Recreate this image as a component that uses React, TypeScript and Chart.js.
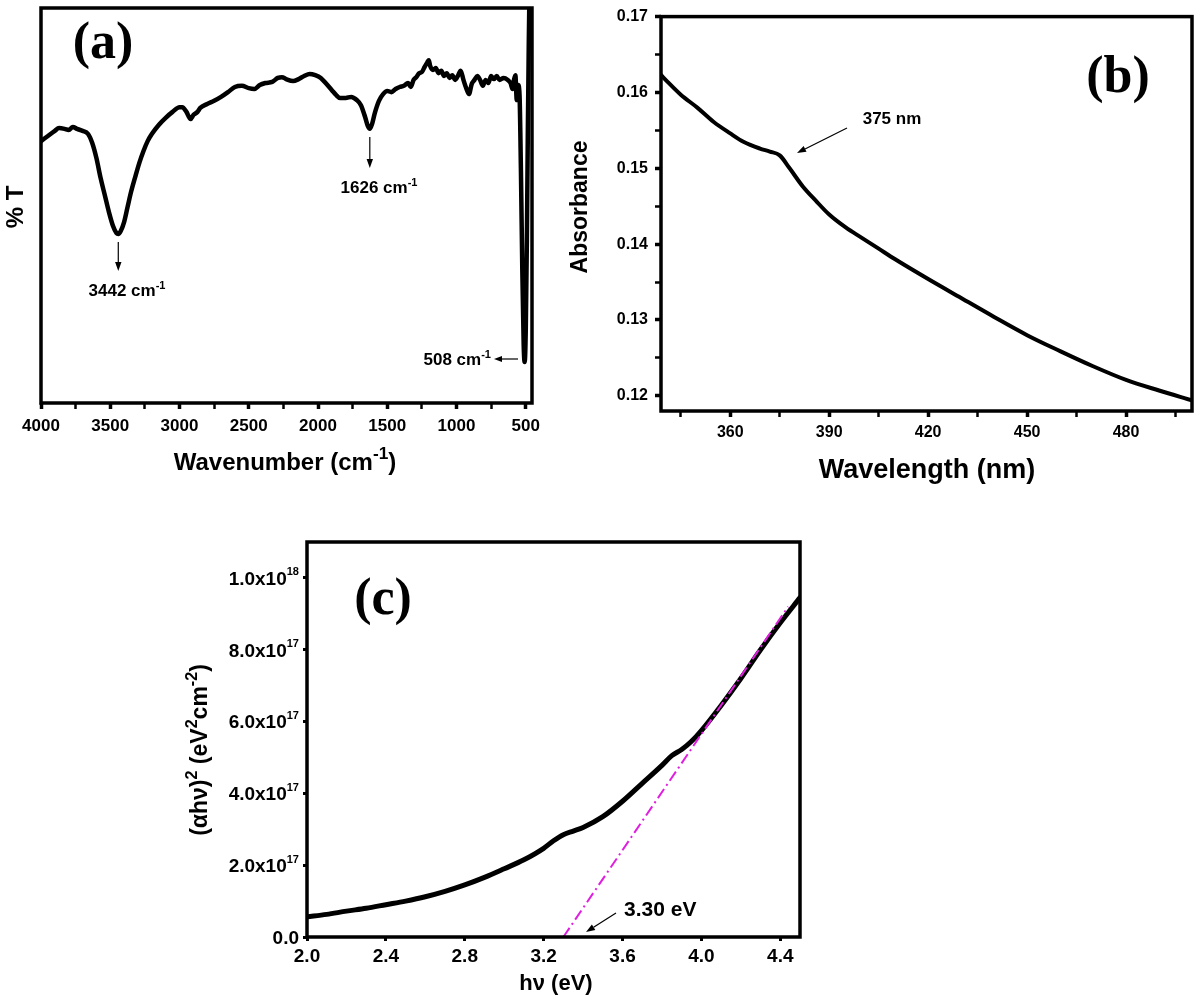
import React, { useEffect, useRef } from "react";
import { Chart, registerables } from "chart.js";

Chart.register(...registerables);

// ---------- Panel (a): FTIR ----------
const wavenumberA = [4000,3950,3900,3870,3830,3800,3770,3740,3700,3660,3630,3600,3570,3540,3510,3480,3455,3442,3425,3400,3375,3350,3320,3290,3260,3230,3200,3150,3100,3050,3000,2980,2950,2920,2900,2870,2850,2800,2750,2700,2650,2600,2550,2500,2460,2420,2380,2330,2290,2260,2230,2180,2140,2100,2060,2020,1980,1940,1900,1870,1840,1800,1760,1720,1690,1660,1640,1626,1610,1590,1560,1530,1500,1470,1440,1410,1380,1350,1330,1310,1290,1270,1250,1230,1210,1200,1190,1170,1150,1130,1110,1090,1070,1050,1030,1010,990,970,950,930,910,890,870,850,830,810,790,770,750,730,710,690,660,630,610,595,585,575,565,555,545,535,525,515,508,500,492,485,478,470];
const transmittanceA = [66.3,67.6,68.9,69.6,69.4,69.1,69.9,69.4,68.9,68.1,65.8,62.0,57.0,52.7,48.4,44.8,43.0,42.8,43.5,45.8,49.6,53.4,57.2,60.8,63.8,66.3,68.1,70.4,72.2,73.7,74.9,74.9,73.7,71.9,72.9,73.7,74.7,75.7,76.5,77.5,78.7,80.0,80.3,79.7,79.5,80.5,81.0,81.3,82.3,82.5,82.0,81.5,82.0,82.8,83.3,83.0,82.3,80.8,79.2,78.0,77.2,77.2,77.5,76.7,75.4,72.4,70.1,69.4,70.6,73.4,76.5,78.2,79.0,78.7,79.5,80.0,80.3,81.0,80.0,81.8,82.5,83.5,83.8,85.1,86.3,86.8,85.3,84.3,84.8,83.5,84.1,82.8,83.5,82.3,83.0,81.8,82.8,84.1,81.8,79.7,78.2,80.8,81.8,82.8,81.8,80.3,81.8,81.0,82.8,82.0,82.8,81.8,82.3,81.8,81.0,79.5,81.8,83.0,76.7,80.5,78.0,59.0,33.7,14.7,10.4,18.5,41.3,69.1,91.9,112];
const ticksA = [4000,3750,3500,3250,3000,2750,2500,2250,2000,1750,1500,1250,1000,750,500];

// ---------- Panel (b): UV-Vis ----------
const wavelengthB = [339,341,345,350,355,360,364,369,372,375,378,382,386,390,395,400,405,410,420,430,440,450,460,470,480,490,500];
const absorbanceB = [0.1623,0.1614,0.1597,0.1580,0.1561,0.1546,0.1535,0.1526,0.1522,0.1517,0.1500,0.1476,0.1457,0.1439,0.1422,0.1408,0.1394,0.1380,0.1354,0.1329,0.1304,0.1280,0.1259,0.1239,0.1221,0.1207,0.1194];
const ticksBx = [345,360,375,390,405,420,435,450,465,480,495];
const ticksBy = [0.12,0.125,0.13,0.135,0.14,0.145,0.15,0.155,0.16,0.165,0.17];

// ---------- Panel (c): Tauc plot ----------
const energyC = [2.0,2.1,2.2,2.3,2.4,2.5,2.6,2.7,2.8,2.9,3.0,3.1,3.2,3.25,3.3,3.35,3.4,3.5,3.6,3.7,3.8,3.85,3.9,3.95,4.0,4.1,4.2,4.3,4.4,4.5];
const taucC = [0.56e17,0.63e17,0.72e17,0.80e17,0.90e17,1.00e17,1.12e17,1.27e17,1.45e17,1.66e17,1.90e17,2.15e17,2.47e17,2.68e17,2.85e17,2.95e17,3.05e17,3.35e17,3.78e17,4.28e17,4.78e17,5.05e17,5.22e17,5.45e17,5.75e17,6.45e17,7.2e17,8.0e17,8.75e17,9.45e17];
const tangentX = [3.30, 4.44];
const tangentY = [0, 9.2e17];
const ticksCx = [2.0,2.4,2.8,3.2,3.6,4.0,4.4];
const ticksCy = [0,2e17,4e17,6e17,8e17,1e18];

const SANS = "'Liberation Sans', Arial, sans-serif";
const SERIF = "'Liberation Serif', 'Times New Roman', serif";

Chart.defaults.font.family = SANS;
Chart.defaults.color = "#000";

type Part = { t: string; sup?: boolean };

function drawRich(
  ctx: CanvasRenderingContext2D,
  parts: Part[],
  x: number,
  y: number,
  size: number,
  align: "left" | "center" | "right" = "center",
  rotate = false,
  family = SANS,
  supScale = 0.65,
  supRise = 0.42
) {
  ctx.save();
  ctx.translate(x, y);
  if (rotate) ctx.rotate(-Math.PI / 2);
  ctx.fillStyle = "#000";
  ctx.textBaseline = "alphabetic";
  ctx.textAlign = "left";
  const widths = parts.map((p) => {
    ctx.font = `bold ${p.sup ? size * supScale : size}px ${family}`;
    return ctx.measureText(p.t).width;
  });
  const total = widths.reduce((a, b) => a + b, 0);
  let cx = align === "center" ? -total / 2 : align === "right" ? -total : 0;
  parts.forEach((p, i) => {
    ctx.font = `bold ${p.sup ? size * supScale : size}px ${family}`;
    ctx.fillText(p.t, cx, p.sup ? -size * supRise : 0);
    cx += widths[i];
  });
  ctx.restore();
}

function drawArrow(ctx: CanvasRenderingContext2D, x1: number, y1: number, x2: number, y2: number, head = 9, half = 3.2) {
  const ang = Math.atan2(y2 - y1, x2 - x1);
  const bx = x2 - head * Math.cos(ang);
  const by = y2 - head * Math.sin(ang);
  ctx.save();
  ctx.strokeStyle = "#000";
  ctx.fillStyle = "#000";
  ctx.lineWidth = 1.2;
  ctx.beginPath();
  ctx.moveTo(x1, y1);
  ctx.lineTo(bx, by);
  ctx.stroke();
  ctx.beginPath();
  ctx.moveTo(x2, y2);
  ctx.lineTo(bx + half * Math.sin(ang), by - half * Math.cos(ang));
  ctx.lineTo(bx - half * Math.sin(ang), by + half * Math.cos(ang));
  ctx.closePath();
  ctx.fill();
  ctx.restore();
}

function drawFrame(chart: Chart, w: number) {
  const { ctx, chartArea: ca } = chart;
  ctx.save();
  ctx.strokeStyle = "#000";
  ctx.lineWidth = w;
  ctx.strokeRect(ca.left, ca.top, ca.right - ca.left, ca.bottom - ca.top);
  ctx.restore();
}

function tickGrid(len: number, isMajor: (v: number) => boolean, wMajor: number, wMinor: number) {
  return {
    display: true,
    drawOnChartArea: false,
    drawTicks: true,
    tickLength: len,
    tickColor: "#000",
    tickWidth: (c: any) => (c.tick && isMajor(c.tick.value) ? wMajor : wMinor),
  };
}

export default function App() {
  const refA = useRef<HTMLCanvasElement>(null);
  const refB = useRef<HTMLCanvasElement>(null);
  const refC = useRef<HTMLCanvasElement>(null);

  useEffect(() => {
    const decorA = {
      id: "decorA",
      afterDraw(chart: Chart) {
        const ctx = chart.ctx;
        drawFrame(chart, 3.5);
        drawRich(ctx, [{ t: "% T" }], 14 + 0.36 * 24, 207, 24, "center", true);
        drawRich(ctx, [{ t: "Wavenumber (cm" }, { t: "-1", sup: true }, { t: ")" }], 285, 470, 24, "center", false, SANS, 0.72, 0.45);
        drawRich(ctx, [{ t: "(a)" }], 103, 58, 52, "center", false, SERIF);
        const xs = chart.scales.x;
        const p3442 = xs.getPixelForValue(3442);
        const p1626 = xs.getPixelForValue(1626);
        drawRich(ctx, [{ t: "3442 cm" }, { t: "-1", sup: true }], 127, 296, 17);
        drawArrow(ctx, p3442, 242, p3442, 271);
        drawRich(ctx, [{ t: "1626 cm" }, { t: "-1", sup: true }], 379, 193, 17);
        drawArrow(ctx, p1626, 137, p1626, 168);
        drawRich(ctx, [{ t: "508 cm" }, { t: "-1", sup: true }], 491, 365, 17, "right");
        drawArrow(ctx, 518, 359, 494, 359, 8, 3);
      },
    };

    const decorB = {
      id: "decorB",
      afterDraw(chart: Chart) {
        const ctx = chart.ctx;
        drawFrame(chart, 3.5);
        drawRich(ctx, [{ t: "Absorbance" }], 19 + 0.36 * 23, 207, 23, "center", true);
        drawRich(ctx, [{ t: "Wavelength (nm)" }], 367, 478, 27);
        drawRich(ctx, [{ t: "(b)" }], 558, 92, 52, "center", false, SERIF);
        drawRich(ctx, [{ t: "375 nm" }], 332, 124, 17);
        drawArrow(ctx, 287, 128, 237, 153);
      },
    };

    const decorC = {
      id: "decorC",
      afterDraw(chart: Chart) {
        const ctx = chart.ctx;
        const ca = chart.chartArea;
        drawFrame(chart, 3.5);
        // y tick labels with true superscripts, placed via the y scale
        const ys = chart.scales.y;
        ticksCy.forEach((v) => {
          const py = ys.getPixelForValue(v);
          let parts: Part[];
          if (v === 0) {
            parts = [{ t: "0.0" }];
          } else {
            const e = Math.floor(Math.log10(v) + 1e-9);
            const m = v / Math.pow(10, e);
            parts = [{ t: m.toFixed(1) + "x10" }, { t: String(e), sup: true }];
          }
          drawRich(ctx, parts, ca.left - 8, py + 0.36 * 19, 19, "right", false, SANS, 0.58, 0.5);
        });
        drawRich(
          ctx,
          [{ t: "(αhν)" }, { t: "2", sup: true }, { t: " (eV" }, { t: "2", sup: true }, { t: "cm" }, { t: "-2", sup: true }, { t: ")" }],
          30 + 0.3 * 23,
          250,
          23,
          "center",
          true,
          SANS,
          0.7,
          0.45
        );
        drawRich(ctx, [{ t: "hν (eV)" }], 386, 490, 22);
        drawRich(ctx, [{ t: "(c)" }], 213, 114, 52, "center", false, SERIF);
        drawRich(ctx, [{ t: "3.30 eV" }], 454, 416, 21, "left");
        drawArrow(ctx, 446, 413, 416, 432);
      },
    };

    const chartA = new Chart(refA.current!, {
      type: "line",
      data: {
        datasets: [
          {
            data: wavenumberA.map((x, i) => ({ x, y: transmittanceA[i] })),
            borderColor: "#000",
            borderWidth: 4.5,
            pointRadius: 0,
            fill: false,
            cubicInterpolationMode: "monotone",
            borderJoinStyle: "round",
            borderCapStyle: "round",
          },
        ],
      },
      options: {
        animation: false,
        responsive: false,
        events: [],
        layout: { padding: { left: 0, top: 8, right: 28, bottom: 0 } },
        plugins: { legend: { display: false }, tooltip: { enabled: false } },
        scales: {
          x: {
            type: "linear",
            reverse: true,
            min: 455,
            max: 4000,
            afterBuildTicks: (s: any) => {
              s.ticks = ticksA.map((v) => ({ value: v }));
            },
            afterFit: (s: any) => {
              s.height = 87;
            },
            grid: tickGrid(6, (v) => v % 500 === 0, 3.5, 2.5) as any,
            border: { display: false },
            ticks: {
              autoSkip: false,
              maxRotation: 0,
              padding: 7,
              color: "#000",
              font: { size: 17, weight: "bold" },
              callback: (v: any) => (Number(v) % 500 === 0 ? String(v) : ""),
            },
          },
          y: {
            type: "linear",
            min: 0,
            max: 100,
            afterFit: (s: any) => {
              s.width = 41;
            },
            grid: { display: false },
            border: { display: false },
            ticks: { display: false },
          },
        },
      },
      plugins: [decorA],
    });

    const chartB = new Chart(refB.current!, {
      type: "line",
      data: {
        datasets: [
          {
            data: wavelengthB.map((x, i) => ({ x, y: absorbanceB[i] })),
            borderColor: "#000",
            borderWidth: 4,
            pointRadius: 0,
            fill: false,
            cubicInterpolationMode: "monotone",
            borderJoinStyle: "round",
            borderCapStyle: "round",
          },
        ],
      },
      options: {
        animation: false,
        responsive: false,
        events: [],
        layout: { padding: { left: 0, top: 14, right: 8, bottom: 0 } },
        plugins: { legend: { display: false }, tooltip: { enabled: false } },
        scales: {
          x: {
            type: "linear",
            min: 339,
            max: 500,
            afterBuildTicks: (s: any) => {
              s.ticks = ticksBx.map((v) => ({ value: v }));
            },
            afterFit: (s: any) => {
              s.height = 89;
            },
            grid: tickGrid(6, (v) => v % 30 === 0, 3.5, 2.5) as any,
            border: { display: false },
            ticks: {
              autoSkip: false,
              maxRotation: 0,
              padding: 6,
              color: "#000",
              font: { size: 16, weight: "bold" },
              callback: (v: any) => (Number(v) % 30 === 0 ? String(v) : ""),
            },
          },
          y: {
            type: "linear",
            min: 0.118,
            max: 0.17,
            afterBuildTicks: (s: any) => {
              s.ticks = ticksBy.map((v) => ({ value: v }));
            },
            afterFit: (s: any) => {
              s.width = 101;
            },
            grid: tickGrid(6, (v) => Math.round(v * 1000) % 10 === 0, 3.5, 2.5) as any,
            border: { display: false },
            ticks: {
              autoSkip: false,
              padding: 7,
              color: "#000",
              font: { size: 16, weight: "bold" },
              callback: (v: any) => (Math.round(Number(v) * 1000) % 10 === 0 ? Number(v).toFixed(2) : ""),
            },
          },
        },
      },
      plugins: [decorB],
    });

    const chartC = new Chart(refC.current!, {
      type: "line",
      data: {
        datasets: [
          {
            data: tangentX.map((x, i) => ({ x, y: tangentY[i] })),
            borderColor: "#e01ee0",
            borderWidth: 2,
            borderDash: [11, 4, 2, 4],
            pointRadius: 0,
            fill: false,
          },
          {
            data: energyC.map((x, i) => ({ x, y: taucC[i] })),
            borderColor: "#000",
            borderWidth: 5,
            pointRadius: 0,
            fill: false,
            cubicInterpolationMode: "monotone",
            borderJoinStyle: "round",
            borderCapStyle: "round",
          },
        ],
      },
      options: {
        animation: false,
        responsive: false,
        events: [],
        layout: { padding: { left: 0, top: 42, right: 20, bottom: 0 } },
        plugins: { legend: { display: false }, tooltip: { enabled: false } },
        scales: {
          x: {
            type: "linear",
            min: 2.0,
            max: 4.5,
            afterBuildTicks: (s: any) => {
              s.ticks = ticksCx.map((v) => ({ value: v }));
            },
            afterFit: (s: any) => {
              s.height = 65;
            },
            grid: tickGrid(4, () => true, 3, 3) as any,
            border: { display: false },
            ticks: {
              autoSkip: false,
              maxRotation: 0,
              padding: 4,
              color: "#000",
              font: { size: 19, weight: "bold" },
              callback: (v: any) => Number(v).toFixed(1),
            },
          },
          y: {
            type: "linear",
            min: 0,
            max: 1.1e18,
            afterBuildTicks: (s: any) => {
              s.ticks = ticksCy.map((v) => ({ value: v }));
            },
            afterFit: (s: any) => {
              s.width = 137;
            },
            grid: tickGrid(4, () => true, 3, 3) as any,
            border: { display: false },
            ticks: { display: false },
          },
        },
      },
      plugins: [decorC],
    });

    return () => {
      chartA.destroy();
      chartB.destroy();
      chartC.destroy();
    };
  }, []);

  return (
    <div style={{ position: "absolute", left: 0, top: 0, width: 1200, height: 1002, background: "#fff", overflow: "hidden" }}>
      <canvas ref={refA} width={560} height={490} style={{ position: "absolute", left: 0, top: 0 }} />
      <canvas ref={refB} width={640} height={500} style={{ position: "absolute", left: 560, top: 0 }} />
      <canvas ref={refC} width={650} height={502} style={{ position: "absolute", left: 170, top: 500 }} />
    </div>
  );
}
